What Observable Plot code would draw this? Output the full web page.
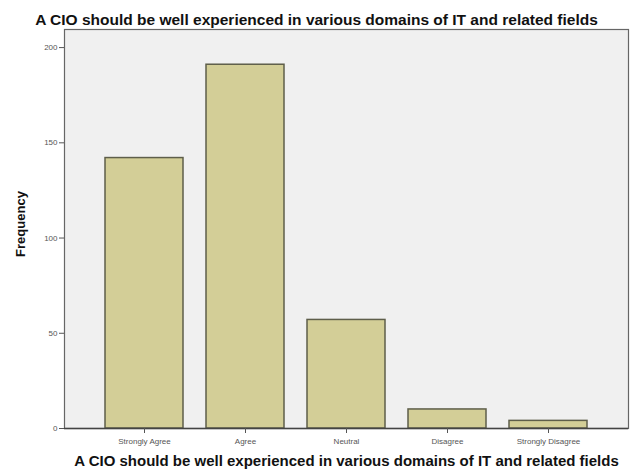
<!DOCTYPE html>
<html>
<head>
<meta charset="utf-8">
<script src="https://cdn.jsdelivr.net/npm/d3@7"></script>
<script src="https://cdn.jsdelivr.net/npm/@observablehq/plot@0.6"></script>
<style>
  html, body { margin: 0; padding: 0; background: #fff; }
</style>
</head>
<body>
<div id="chart"></div>
<script>
const categories = ["Strongly Agree", "Agree", "Neutral", "Disagree", "Strongly Disagree"];
const frequencies = [142, 191, 57, 10, 4];
const yTicks = [0, 50, 100, 150, 200];
const titleText = "A CIO should be well experienced in various domains of IT and related fields";
const yLabel = "Frequency";

const data = categories.map((c, i) => ({category: c, frequency: frequencies[i]}));

const chart = Plot.plot({
  width: 632,
  height: 475,
  marginTop: 29,
  marginLeft: 64,
  marginRight: 4,
  marginBottom: 47,
  style: {fontFamily: "'Liberation Sans', Arial, sans-serif", background: "#fff"},
  x: {domain: categories, paddingInner: 0.232, paddingOuter: 0.394},
  y: {domain: [0, 209.5]},
  marks: [
    Plot.frame({fill: "#f0f0f0", stroke: "#666", strokeWidth: 1.2}),
    Plot.barY(data, {x: "category", y: "frequency", fill: "#d3ce97", stroke: "#5e5e4a", strokeWidth: 1.5}),
    Plot.ruleY([0], {stroke: "#444", strokeWidth: 1.5}),
    Plot.axisX({tickSize: 5, tickPadding: 5, fontSize: 8, color: "#555", label: null}),
    Plot.axisY(yTicks, {tickSize: 5, tickPadding: 2, fontSize: 8, color: "#555", label: null}),
    Plot.text([titleText], {frameAnchor: "top", dy: -16, dx: -30, fontWeight: "bold", fontSize: 15.5, fill: "#111"}),
    Plot.text([titleText], {frameAnchor: "bottom", dy: 37, fontWeight: "bold", fontSize: 15, fill: "#111"}),
    Plot.text([yLabel], {frameAnchor: "left", dx: -44, dy: -5, rotate: -90, textAnchor: "middle", fontWeight: "bold", fontSize: 13, fill: "#111"})
  ]
});

document.getElementById("chart").append(chart);
</script>
</body>
</html>
